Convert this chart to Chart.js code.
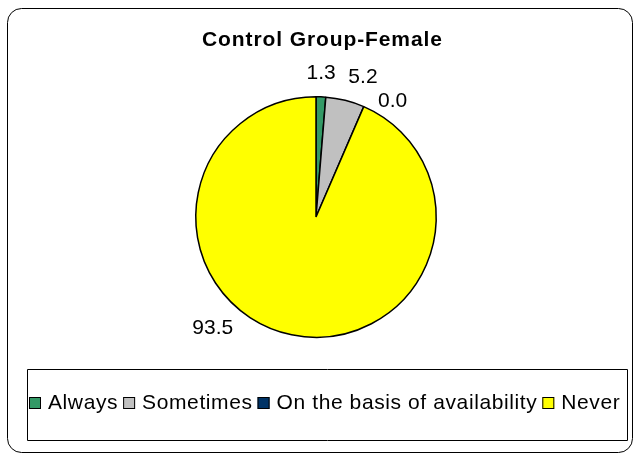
<!DOCTYPE html>
<html>
<head>
<meta charset="utf-8">
<script src="https://cdn.jsdelivr.net/npm/chart.js@4/dist/chart.umd.min.js"></script>
<style>
  html, body { margin: 0; padding: 0; background: #fff; }
  #wrap { width: 639px; height: 459px; }
</style>
</head>
<body>
<div id="wrap"><canvas id="pieChart" width="639" height="459"></canvas></div>
<script>
// chart data
const chartTitle = 'Control Group-Female';
const categories = ['Always', 'Sometimes', 'On the basis of availability', 'Never'];
const values     = [1.3, 5.2, 0.0, 93.5];
const colors     = ['#339966', '#C0C0C0', '#003366', '#FFFF00'];

// label placement tweaks (degrees / px away from the slice edge)
const labelShift = [-0.3, 4.3, 9.7, 31.7];
const labelGap   = [25, 29, 20, 30];

const FONT = '"Liberation Sans", Arial, sans-serif';

// frame, title, value labels and legend box
const decorPlugin = {
    id: 'decor',
    afterDraw(chart) {
        const ctx = chart.ctx;
        ctx.save();

        // outer rounded frame
        ctx.strokeStyle = '#000';
        ctx.lineWidth = 1;
        ctx.beginPath();
        ctx.roundRect(7.5, 8.5, 625, 444, 14);
        ctx.stroke();

        // title
        ctx.fillStyle = '#000';
        ctx.font = 'bold 21px ' + FONT;
        ctx.letterSpacing = '0.9px';
        ctx.textAlign = 'left';
        ctx.textBaseline = 'alphabetic';
        ctx.fillText(chartTitle, 202, 46);

        // value labels
        ctx.letterSpacing = '0px';
        ctx.textAlign = 'center';
        ctx.font = '21px ' + FONT;
        const meta = chart.getDatasetMeta(0);
        meta.data.forEach((arc, i) => {
            const mid = (arc.startAngle + arc.endAngle) / 2 + labelShift[i] * Math.PI / 180;
            const r = arc.outerRadius + labelGap[i];
            const x = arc.x + Math.cos(mid) * r;
            const y = arc.y + Math.sin(mid) * r;
            ctx.fillText(values[i].toFixed(1), x, y + 7.5);
        });

        // legend box
        ctx.beginPath();
        ctx.rect(27.5, 369.5, 600, 71);
        ctx.stroke();

        let x = 29;
        const y = 409;
        ctx.textAlign = 'left';
        ctx.letterSpacing = '0.6px';
        categories.forEach((name, i) => {
            ctx.fillStyle = colors[i];
            ctx.fillRect(x, y - 12, 12, 12);
            ctx.strokeStyle = '#000';
            ctx.strokeRect(x + 0.5, y - 11.5, 11, 11);
            ctx.fillStyle = '#000';
            ctx.fillText(name, x + 19, y);
            x += 19 + ctx.measureText(name).width + 5;
        });

        ctx.restore();
    }
};

new Chart(document.getElementById('pieChart'), {
    type: 'pie',
    data: {
        labels: categories,
        datasets: [{
            data: values,
            backgroundColor: colors,
            borderColor: '#000',
            borderWidth: 1.5
        }]
    },
    options: {
        responsive: false,
        animation: false,
        layout: { padding: { top: 96, bottom: 121, left: 195, right: 202 } },
        plugins: {
            legend: { display: false },
            title: { display: false },
            tooltip: { enabled: false }
        }
    },
    plugins: [decorPlugin]
});
</script>
</body>
</html>
